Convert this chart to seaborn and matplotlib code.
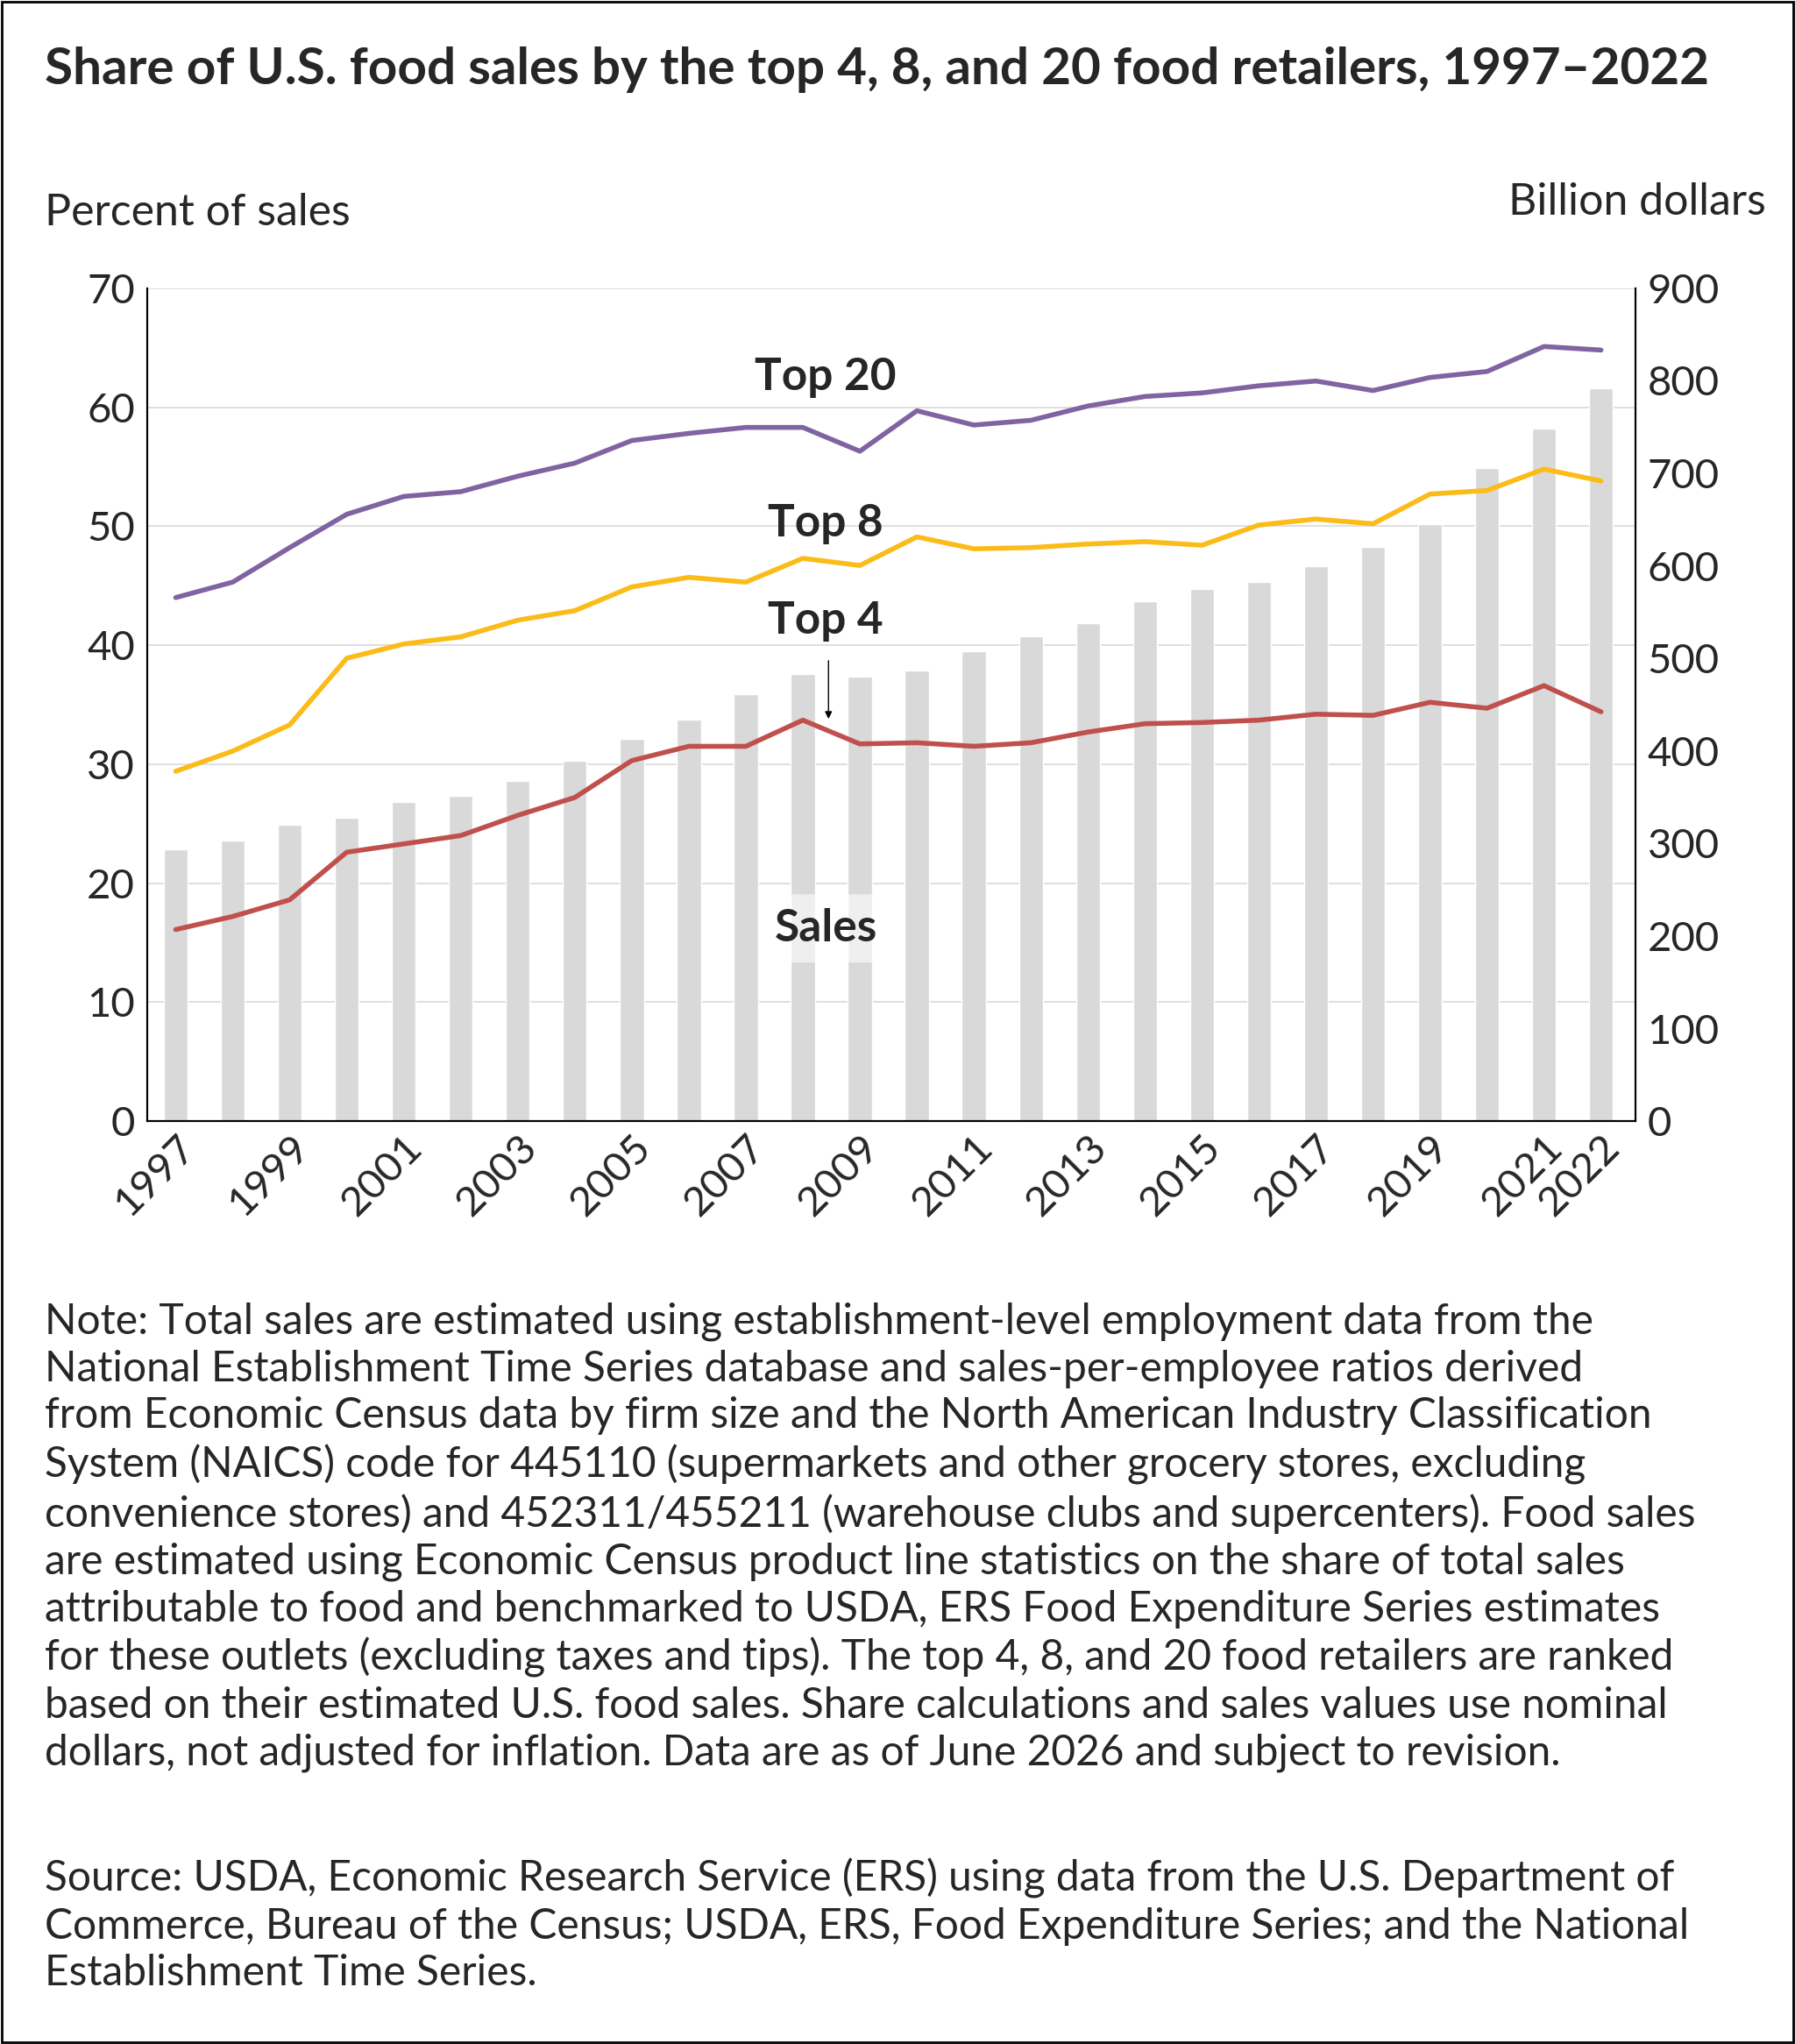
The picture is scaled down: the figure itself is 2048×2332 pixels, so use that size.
import numpy as np
import pandas as pd
import matplotlib
matplotlib.use("Agg")
import matplotlib.pyplot as plt
import seaborn as sns

years = list(range(1997, 2023))
sales = [294, 303, 320, 328, 345, 351, 368, 389, 413, 434, 461, 483, 480, 487,
         508, 524, 538, 562, 575, 583, 600, 620, 645, 706, 748, 792]
top20 = [44.0, 45.3, 48.2, 51.0, 52.5, 52.9, 54.2, 55.3, 57.2, 57.8, 58.3, 58.3, 56.3,
         59.7, 58.5, 58.9, 60.1, 60.9, 61.2, 61.8, 62.2, 61.4, 62.5, 63.0, 65.1, 64.8]
top8 = [29.4, 31.1, 33.3, 38.9, 40.1, 40.7, 42.1, 42.9, 44.9, 45.7, 45.3, 47.3, 46.7,
        49.1, 48.1, 48.2, 48.5, 48.7, 48.4, 50.1, 50.6, 50.2, 52.7, 53.0, 54.8, 53.8]
top4 = [16.1, 17.2, 18.6, 22.6, 23.3, 24.0, 25.7, 27.2, 30.3, 31.5, 31.5, 33.7, 31.7,
        31.8, 31.5, 31.8, 32.7, 33.4, 33.5, 33.7, 34.2, 34.1, 35.2, 34.7, 36.6, 34.4]
xticks = [1997, 1999, 2001, 2003, 2005, 2007, 2009, 2011, 2013, 2015, 2017, 2019, 2021, 2022]

sns.set_style("white")
plt.rcParams['font.family'] = ['Lato', 'DejaVu Sans']

fig = plt.figure(figsize=(20.48, 23.32), dpi=100)
ax = fig.add_axes([0.082, 0.4515, 0.829, 0.4075])
ax2 = ax.twinx()

sns.barplot(x=years, y=sales, native_scale=True, color="#d9d9d9", width=0.42,
            ax=ax2, zorder=2)
ax2.set_ylim(0, 900)
ax2.set_yticks(range(0, 901, 100))

ax.set_zorder(ax2.get_zorder() + 1)
ax.patch.set_visible(False)
sns.lineplot(x=years, y=top20, color="#8064a2", lw=4, ax=ax)
sns.lineplot(x=years, y=top8, color="#fbbc1a", lw=4, ax=ax)
sns.lineplot(x=years, y=top4, color="#c0504d", lw=4, ax=ax)
ax.set_ylim(0, 70)
ax.set_yticks(range(0, 71, 10))
ax.set_xlim(1996.5, 2022.6)
ax.set_xticks(xticks)
ax.set_xticklabels(xticks, rotation=45, ha="right", rotation_mode="anchor")
for a in (ax, ax2):
    a.tick_params(labelsize=34, length=0, pad=10)
    a.spines["top"].set_visible(False)
    for s in ("left", "right", "bottom"):
        a.spines[s].set_color("black")
        a.spines[s].set_linewidth(1.5)
ax.tick_params(axis="x", pad=6)
# grid drawn on bar axis so it sits behind bars
for v in range(10, 71, 10):
    ax2.axhline(v * 900 / 70, color="#d9d9d9", lw=1.2, zorder=0)

ax.text(2008.4, 60.8, "Top 20", fontsize=37, fontweight="bold", ha="center", va="bottom")
ax.text(2008.4, 48.5, "Top 8", fontsize=37, fontweight="bold", ha="center", va="bottom")
ax.text(2008.4, 40.3, "Top 4", fontsize=37, fontweight="bold", ha="center", va="bottom")
ax.annotate("", xy=(2008.45, 33.6), xytext=(2008.45, 38.9),
            arrowprops=dict(arrowstyle="-|>", color="black", lw=1, mutation_scale=12))
ax.text(2008.4, 16.2, "Sales", fontsize=37, fontweight="bold", ha="center", va="center",
        bbox=dict(facecolor="white", alpha=0.6, edgecolor="none", boxstyle="round,pad=0.3"))

ax.set_ylabel("")
fig.text(0.025, 0.896, "Percent of sales", fontsize=36, ha="left", va="center")
fig.text(0.984, 0.901, "Billion dollars", fontsize=36, ha="right", va="center")
fig.text(0.025, 0.966, "Share of U.S. food sales by the top 4, 8, and 20 food retailers, 1997–2022",
         fontsize=42, fontweight="bold", ha="left", va="center")

note = ("Note: Total sales are estimated using establishment-level employment data from the\n"
        "National Establishment Time Series database and sales-per-employee ratios derived\n"
        "from Economic Census data by firm size and the North American Industry Classification\n"
        "System (NAICS) code for 445110 (supermarkets and other grocery stores, excluding\n"
        "convenience stores) and 452311/455211 (warehouse clubs and supercenters). Food sales\n"
        "are estimated using Economic Census product line statistics on the share of total sales\n"
        "attributable to food and benchmarked to USDA, ERS Food Expenditure Series estimates\n"
        "for these outlets (excluding taxes and tips). The top 4, 8, and 20 food retailers are ranked\n"
        "based on their estimated U.S. food sales. Share calculations and sales values use nominal\n"
        "dollars, not adjusted for inflation. Data are as of June 2026 and subject to revision.")
fig.text(0.025, 0.363, note, fontsize=34.5, ha="left", va="top", linespacing=1.27)
source = ("Source: USDA, Economic Research Service (ERS) using data from the U.S. Department of\n"
          "Commerce, Bureau of the Census; USDA, ERS, Food Expenditure Series; and the National\n"
          "Establishment Time Series.")
fig.text(0.025, 0.091, source, fontsize=34.5, ha="left", va="top", linespacing=1.27)

fig.patches.append(plt.Rectangle((0.001, 0.001), 0.998, 0.998, transform=fig.transFigure,
                                 fill=False, edgecolor="black", lw=2))
fig.savefig("out.png", dpi=100)
